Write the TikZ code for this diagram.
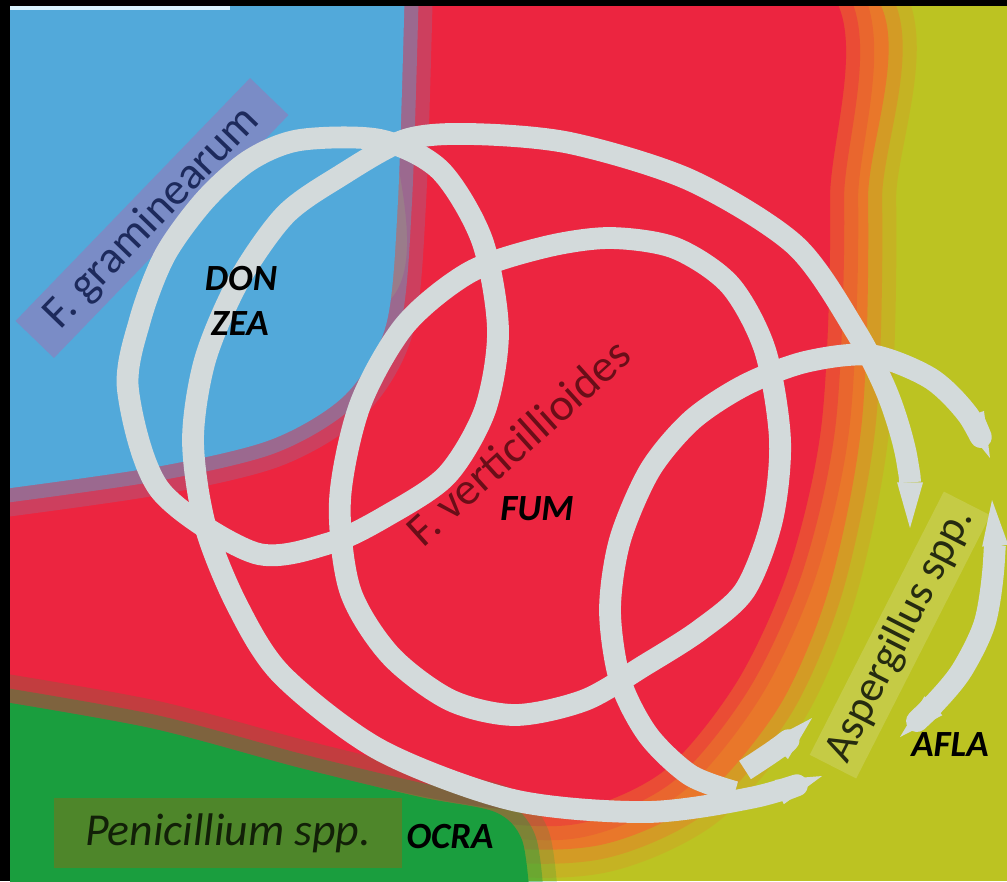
\documentclass[tikz,border=0pt]{standalone}
\usepackage{fontspec}
\setmainfont{Carlito}
\usetikzlibrary{arrows.meta}
\definecolor{fonsB}{HTML}{52A9DA}
\definecolor{fonsR}{HTML}{EC2540}
\definecolor{fonsO}{HTML}{E9772A}
\definecolor{fonsG}{HTML}{BCC322}
\definecolor{fonsV}{HTML}{1A9E3E}
\definecolor{coilC}{HTML}{D3DADB}
\definecolor{gramBox}{HTML}{7A8CC6}
\definecolor{gramText}{HTML}{1D2A5C}
\definecolor{vertText}{HTML}{6A0E18}
\definecolor{asperBox}{HTML}{C9CF55}
\definecolor{asperText}{HTML}{262B10}
\definecolor{peniBox}{HTML}{4E862A}
\definecolor{peniText}{HTML}{122008}

\begin{document}
\begin{tikzpicture}[x=0.01cm,y=-0.01cm,
  band/.style={draw=coilC,line width=6.2pt,line join=round},
  tipin/.style={{Triangle[width=7.4pt,length=13pt,line width=0pt,fill=coilC]}-},
  tipout/.style={-{Triangle[width=7.4pt,length=13pt,line width=0pt,fill=coilC]}},
  tipboth/.style={{Triangle[width=7.4pt,length=13pt,line width=0pt,fill=coilC]}-{Triangle[width=7.4pt,length=13pt,line width=0pt,fill=coilC]}},
  blend/.style={fill=#1,draw=#1,line width=8pt,draw opacity=.4,
    preaction={draw=#1,line width=16pt,draw opacity=.2}},
  spname/.style={font=\fontsize{13pt}{15pt}\selectfont,inner sep=2pt},
  toxin/.style={font=\fontsize{10.5pt}{12pt}\selectfont\bfseries\itshape,text=black}]
\useasboundingbox (0,0) rectangle (1007,881);
\fill[black] (0,0) rectangle (1007,881);
% fons de colors
\begin{scope}
\clip (10,6) rectangle (1007,881);
\fill[fonsG] (10,6) rectangle (1007,881);
\path[blend=fonsO] plot[smooth cycle] coordinates {(380,-20) (855,-20) (868,200) (862,420) (830,585) (780,705) (700,800) (600,845) (480,845) (300,800) (-20,740) (-20,400) (380,300)};
\path[blend=fonsR] plot[smooth cycle] coordinates {(395,-20) (815,-20) (830,200) (822,420) (790,565) (738,680) (665,770) (575,810) (470,805) (300,770) (150,735) (-20,700) (-20,420) (390,300)};
\path[blend=fonsB] (-20,-20) -- plot[smooth] coordinates {(405,-20) (398,200) (386,325) (345,395) (270,440) (150,468) (-20,492)} -- cycle;
\path[blend=fonsV] (-20,900) -- plot[smooth] coordinates {(-20,698) (150,728) (300,768) (420,797) (495,812) (522,840) (530,900)} -- cycle;
\fill[cyan!15] (10,6) rectangle (230,10);
\end{scope}
% caixes dels noms
\node[spname,rotate=46,fill=gramBox,text=gramText,minimum width=96pt,minimum height=15pt] (gram) at (152,218) {F. graminearum};
\node[spname,font=\fontsize{12.5pt}{15pt}\selectfont,rotate=63,fill=asperBox,fill opacity=.7,text opacity=1,text=asperText,minimum width=84pt,minimum height=14pt] (asper) at (900,635) {Aspergillus spp.};
\node[spname,font=\fontsize{13pt}{15pt}\selectfont\itshape,fill=peniBox,text=peniText,minimum width=99pt,minimum height=20pt] (peni) at (228,833) {Penicillium spp.};
% espiral
\draw[band] plot[smooth cycle] coordinates {(128,390) (160,490) (255,553) (330,543) (388,515) (447,475) (485,410) (498,330) (482,240) (440,170) (380,140) (300,140) (250,160) (205,200) (165,255) (140,320)};
\draw[band,tipboth] plot[smooth] coordinates {(910,528) (907,460) (888,395) (855,330) (795,245) (690,180) (570,143) (470,134) (405,140) (340,176) (285,215) (238,282) (205,360) (193,440) (205,525) (237,605) (282,675) (380,750) (513,800) (647,812) (755,797) (822,776)};
\draw[band] plot[smooth cycle] coordinates {(340,500) (350,590) (390,655) (450,700) (515,715) (585,700) (645,665) (700,630) (745,590) (772,520) (780,440) (765,350) (730,285) (675,248) (610,238) (545,247) (470,272) (405,325) (360,405)};
\draw[band,tipout] plot[smooth] coordinates {(735,792) (690,775) (648,735) (620,680) (610,610) (620,540) (650,470) (692,420) (745,385) (805,362) (870,355) (930,378) (968,415) (990,458)};
\draw[band,tipboth] plot[smooth] coordinates {(992,500) (994,560) (985,622) (962,670) (935,703) (900,737)};
\draw[band,tipin] plot[smooth] coordinates {(812,718) (782,745) (745,770)};
% noms i toxines
\node[spname,rotate=42,text=vertText] (vert) at (518,442) {F. verticillioides};
\node[toxin] (don) at (241,279) {DON};
\node[toxin] (zea) at (240,324) {ZEA};
\node[toxin] (fum) at (537,509) {FUM};
\node[toxin] (afla) at (950,745) {AFLA};
\node[toxin] (ocra) at (450,836) {OCRA};
\end{tikzpicture}
\end{document}
